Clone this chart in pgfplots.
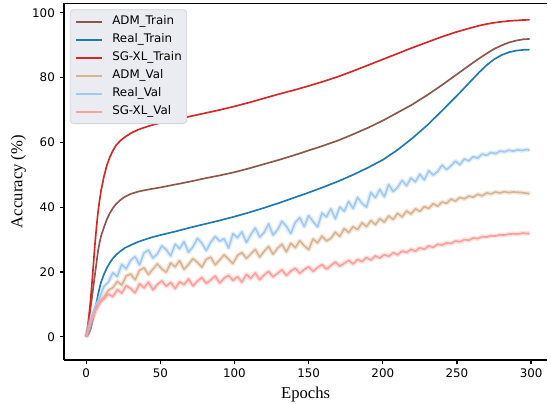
\documentclass[border=0pt]{standalone}
\usepackage{fontspec}
\setmainfont{Liberation Serif}
\newfontfamily\dejavu{DejaVu Sans}
\usepackage{pgfplots}
\pgfplotsset{compat=1.18}
\usepackage{pgfplotstable}

\definecolor{admtrain}{HTML}{8C564B}
\definecolor{realtrain}{HTML}{1F77B4}
\definecolor{sgtrain}{HTML}{D62728}
\definecolor{admval}{RGB}{218,180,145}
\definecolor{realval}{HTML}{A1C9F4}
\definecolor{sgval}{HTML}{FF9F9B}
\definecolor{legbg}{RGB}{235,235,242}
\definecolor{legedge}{RGB}{212,212,218}

% training accuracy (smooth curves)
\pgfplotstableread{
ep  adm   real  sg
0   0.0   0.0   0.0
1   2.5   0.4   3.0
2   5.5   1.2   7.0
3   9.0   2.4   11.5
4   12.5  4.2   17.0
5   16.0  6.3   23.0
6   19.5  8.5   29.0
7   23.0  10.7  34.0
8   26.5  13.0  38.5
9   29.0  15.0  42.0
10  31.0  16.8  45.0
12  33.8  19.3  49.5
14  36.3  21.3  53.0
16  38.2  22.9  55.5
18  39.7  24.2  57.4
20  40.9  25.2  59.0
23  42.2  26.4  60.5
26  43.2  27.4  61.6
30  44.1  28.3  62.8
35  44.8  29.3  63.9
40  45.3  30.1  64.7
45  45.7  30.8  65.4
50  46.1  31.4  66.0
60  47.0  32.5  67.0
70  47.9  33.7  68.0
80  48.9  34.8  69.0
90  49.8  35.9  70.0
100 50.8  37.1  71.1
110 52.0  38.4  72.3
120 53.3  39.8  73.6
130 54.6  41.3  74.9
140 56.0  42.9  76.1
150 57.5  44.5  77.4
160 59.0  46.2  78.8
170 60.6  48.0  80.3
180 62.5  50.0  82.0
190 64.5  52.2  83.8
200 66.7  54.6  85.6
210 69.2  57.7  87.4
220 71.7  61.3  89.2
230 74.6  65.3  90.9
240 77.7  69.8  92.6
250 81.0  74.4  94.1
260 84.3  79.2  95.4
265 85.9  81.6  96.0
270 87.4  83.8  96.5
275 88.8  85.6  96.9
280 89.9  86.9  97.2
285 90.8  87.8  97.45
290 91.4  88.3  97.6
295 91.8  88.55 97.75
299 91.9  88.6  97.8
}\traindata

% validation accuracy (noisy curves)
\pgfplotstableread{
ep  real  adm   sg
0   0.0   0.0   0.0
3   5.2   4.5   4.3
6   9.4   7.8   7.9
9   12.1  10.9  10.4
12  15.6  12.3  11.8
15  16.9  14.4  13.2
18  19.8  15.2  12.4
21  18.6  17.1  14.6
24  22.4  16.0  13.5
27  21.0  18.8  15.8
30  23.6  19.4  14.9
33  24.8  17.6  13.6
36  22.2  20.5  16.4
39  25.9  21.3  15.1
42  26.8  19.2  16.9
45  24.3  20.9  14.5
48  25.6  22.5  16.2
51  28.1  21.0  17.3
54  26.9  19.9  15.6
57  25.0  22.8  16.8
60  28.6  21.6  14.9
63  27.2  23.5  17.0
66  29.4  20.8  16.1
69  26.1  22.4  17.9
72  27.8  24.1  15.7
75  30.4  23.0  17.2
78  28.9  21.5  18.3
81  26.6  23.9  16.5
84  29.2  24.6  17.6
87  31.0  22.2  18.8
90  29.5  23.7  16.6
93  30.3  25.3  18.1
96  27.4  24.0  19.0
99  31.8  22.6  17.4
102 30.6  25.1  18.6
105 32.4  26.0  16.9
108 29.1  24.2  19.3
111 31.5  25.6  18.0
114 33.6  27.0  19.7
117 30.8  24.6  17.6
120 32.2  26.4  19.1
123 34.9  27.9  20.2
126 31.4  25.5  18.5
129 33.0  27.3  19.6
132 35.7  28.6  20.7
135 34.1  26.2  18.9
138 31.9  28.9  20.3
141 35.3  27.5  21.2
144 36.8  29.7  19.6
147 34.0  28.1  20.8
150 37.4  26.9  21.6
153 35.6  30.2  20.2
156 33.9  29.0  21.4
159 38.2  31.1  22.3
162 37.0  29.6  20.9
165 39.5  30.4  22.0
168 36.4  32.3  23.1
171 40.1  31.0  21.8
174 38.7  33.4  22.7
177 41.8  32.2  23.6
180 39.6  34.0  22.5
183 43.0  33.1  23.9
186 41.2  35.2  23.2
189 40.0  34.0  24.5
192 44.6  35.9  23.7
195 42.9  34.6  25.0
198 45.5  36.5  24.3
201 43.2  35.4  25.4
204 47.0  37.3  24.8
207 44.8  36.2  26.0
210 46.1  38.1  25.3
213 48.3  37.0  26.5
216 46.6  38.8  26.0
219 49.0  37.9  27.0
222 47.8  39.5  26.4
225 50.2  38.7  27.5
228 48.4  40.2  27.0
231 51.3  39.6  28.1
234 49.9  41.1  27.6
237 51.0  40.3  28.6
240 53.0  41.6  28.3
243 51.6  41.2  29.0
246 52.8  42.5  28.8
249 54.2  41.9  29.6
252 53.1  43.0  29.3
255 54.9  42.6  30.0
258 54.3  43.4  29.8
261 55.6  43.1  30.5
264 55.1  44.0  30.3
267 56.4  43.5  30.9
270 56.0  44.4  30.8
273 56.9  44.1  31.2
276 56.5  44.7  31.1
279 57.3  44.4  31.5
282 57.1  44.8  31.4
285 57.6  44.5  31.7
288 57.3  44.7  31.8
291 57.7  44.6  31.7
294 57.5  44.5  32.0
297 57.8  44.3  31.9
299 57.6  44.2  31.9
}\valdata

\begin{document}
\begin{tikzpicture}
\begin{axis}[
    scale only axis,
    width=363pt, height=267.75pt,
    xmin=-15, xmax=311, ymin=-7.1, ymax=102.9,
    axis x line*=bottom, axis y line*=left,
    axis line style={line width=0.9pt, black},
    xtick={0,50,...,300}, ytick={0,20,...,100},
    tick align=outside, major tick length=3.3pt,
    tick style={line width=0.9pt, black},
    tick label style={font=\dejavu\fontsize{8.9}{10}\selectfont},
    /pgf/number format/assume math mode=true,
    xlabel={Epochs}, ylabel={Accuracy (\%)},
    xlabel style={at={(axis description cs:0.5,-0.0748)}, anchor=north, inner sep=0pt,
        font=\fontsize{12.5}{14}\selectfont},
    ylabel style={at={(axis description cs:-0.094,0.5)}, anchor=center, inner sep=0pt,
        font=\fontsize{12.5}{14}\selectfont},
    clip=false,
    legend cell align=left,
    legend image code/.code={\draw[#1, line width=1.5pt, opacity=1] (0pt,0pt) -- (19.5pt,0pt);},
    legend style={at={(axis description cs:0.0124,0.983)}, anchor=north west,
        fill=legbg, draw=legedge, line width=0.6pt, rounded corners=2.5pt,
        inner xsep=3.75pt, inner ysep=4.5pt, row sep=4.5pt, column sep=6.75pt,
        font=\dejavu\fontsize{8.9}{10}\selectfont,
        nodes={inner sep=0pt, text height=6.8pt, text depth=2.2pt}},
]
\addplot[admtrain, line width=1.25pt, line join=round] table[x=ep, y=adm] {\traindata};
\addlegendentry{ADM\_Train}
\addplot[realtrain, line width=1.25pt, line join=round] table[x=ep, y=real] {\traindata};
\addlegendentry{Real\_Train}
\addplot[sgtrain, line width=1.25pt, line join=round] table[x=ep, y=sg] {\traindata};
\addlegendentry{SG-XL\_Train}

\addplot[forget plot, admval, line width=3.5pt, opacity=0.3, line join=round] table[x=ep, y=adm] {\valdata};
\addplot[admval, line width=1.25pt, line join=round] table[x=ep, y=adm] {\valdata};
\addlegendentry{ADM\_Val}
\addplot[forget plot, realval, line width=3.5pt, opacity=0.3, line join=round] table[x=ep, y=real] {\valdata};
\addplot[realval, line width=1.25pt, line join=round] table[x=ep, y=real] {\valdata};
\addlegendentry{Real\_Val}
\addplot[forget plot, sgval, line width=3.5pt, opacity=0.3, line join=round] table[x=ep, y=sg] {\valdata};
\addplot[sgval, line width=1.25pt, line join=round] table[x=ep, y=sg] {\valdata};
\addlegendentry{SG-XL\_Val}

\draw[black, line width=0.9pt] (rel axis cs:0,1) -- (rel axis cs:1,1);
\path (axis description cs:-0.1322,-0.1232) -- (axis description cs:1,1.0092);
\end{axis}
\end{tikzpicture}
\end{document}
